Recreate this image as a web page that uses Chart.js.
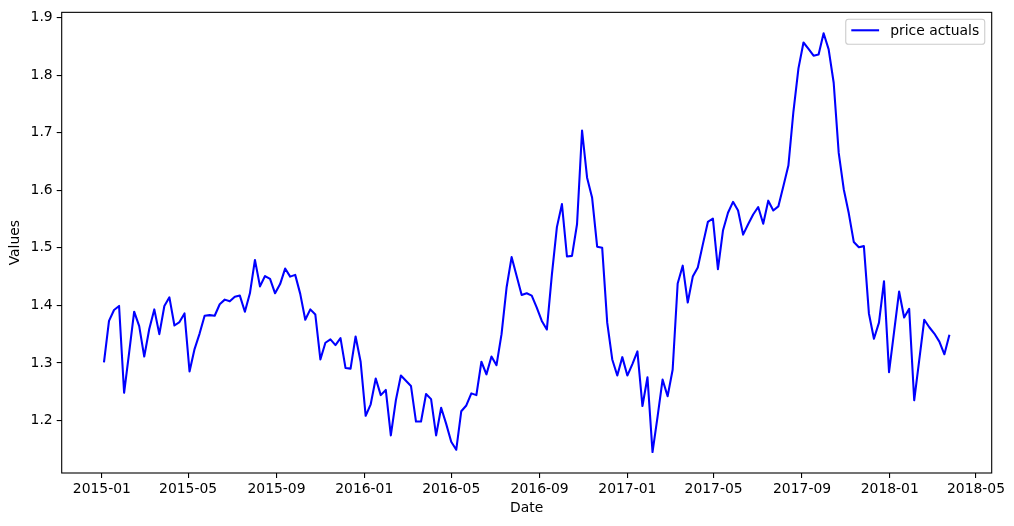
<!DOCTYPE html>
<html>
<head>
<meta charset="utf-8">
<title>price actuals</title>
<script src="https://cdn.jsdelivr.net/npm/chart.js@4.4.1/dist/chart.umd.min.js"></script>
<style>
    html, body { margin: 0; padding: 0; background: #fff; }
    #wrap { width: 1014px; height: 526px; }
</style>
</head>
<body>
<div id="wrap"><canvas id="priceChart" width="1014" height="526"></canvas></div>
<script>
// weekly series
const seriesLabel = 'price actuals';
const firstWeek = '2015-01-04';
const priceActuals = [
    1.301, 1.373, 1.392, 1.399, 1.248, 1.318, 1.389, 1.364, 1.311, 1.359,
    1.393, 1.350, 1.399, 1.414, 1.365, 1.371, 1.386, 1.285, 1.324, 1.351,
    1.382, 1.383, 1.382, 1.402, 1.410, 1.407, 1.415, 1.417, 1.389, 1.421,
    1.479, 1.433, 1.451, 1.446, 1.421, 1.437, 1.464, 1.450, 1.453, 1.420,
    1.375, 1.393, 1.384, 1.306, 1.335, 1.341, 1.331, 1.343, 1.291, 1.290,
    1.346, 1.302, 1.208, 1.228, 1.273, 1.244, 1.253, 1.174, 1.235, 1.278,
    1.269, 1.260, 1.198, 1.198, 1.246, 1.237, 1.174, 1.222, 1.194, 1.163,
    1.149, 1.216, 1.226, 1.247, 1.244, 1.302, 1.280, 1.311, 1.296, 1.350,
    1.431, 1.484, 1.451, 1.418, 1.421, 1.417, 1.396, 1.373, 1.358, 1.453,
    1.536, 1.576, 1.485, 1.486, 1.541, 1.704, 1.622, 1.587, 1.502, 1.500,
    1.370, 1.306, 1.278, 1.310, 1.278, 1.298, 1.320, 1.225, 1.275, 1.145,
    1.206, 1.271, 1.242, 1.288, 1.438, 1.469, 1.405, 1.450, 1.466, 1.506,
    1.545, 1.551, 1.463, 1.530, 1.561, 1.580, 1.565, 1.523, 1.541, 1.558,
    1.571, 1.542, 1.582, 1.565, 1.572, 1.607, 1.643, 1.737, 1.812, 1.857,
    1.846, 1.834, 1.836, 1.873, 1.845, 1.787, 1.665, 1.602, 1.560, 1.510,
    1.501, 1.503, 1.386, 1.342, 1.370, 1.442, 1.284, 1.354, 1.424, 1.379,
    1.394, 1.235, 1.305, 1.375, 1.362, 1.351, 1.337, 1.315, 1.349
];
const xTickLabels = ['2015-01', '2015-05', '2015-09', '2016-01', '2016-05', '2016-09',
    '2017-01', '2017-05', '2017-09', '2018-01', '2018-05'];
const yTickValues = [1.2, 1.3, 1.4, 1.5, 1.6, 1.7, 1.8, 1.9];

const DAY = 86400000;
const origin = Date.UTC(2015, 0, 1);
const toDay = (s) => {
    const [y, m, d] = s.split('-').map(Number);
    return (Date.UTC(y, m - 1, d || 1) - origin) / DAY;
};

const weekDays = priceActuals.map((_, i) => toDay(firstWeek) + 7 * i);
const xTickValues = xTickLabels.map(toDay);

// matplotlib style 5% margins
const pad = (lo, hi) => [lo - (hi - lo) * 0.05, hi + (hi - lo) * 0.05];
const [xMin, xMax] = pad(weekDays[0], weekDays[weekDays.length - 1]);
const [yMin, yMax] = pad(Math.min(...priceActuals), Math.max(...priceActuals));

const FONT = { family: '"DejaVu Sans", sans-serif', size: 13.9 };

const frameBox = {
    id: 'frameBox',
    afterDraw(chart) {
        const { ctx, chartArea: a } = chart;
        ctx.save();
        ctx.strokeStyle = '#000';
        ctx.lineWidth = 1.1;
        ctx.strokeRect(a.left, a.top, a.right - a.left, a.bottom - a.top);

        // legend, upper right like matplotlib
        const ds = chart.data.datasets[0];
        ctx.font = `${FONT.size}px ${FONT.family}`;
        const textW = ctx.measureText(ds.label).width;
        const bp = 5.56, hl = 27.8, tp = 11.1;
        const w = bp * 2 + hl + tp + textW, h = 25;
        const x0 = a.right - 6.95 - w, y0 = a.top + 6.95;
        ctx.beginPath();
        ctx.roundRect(x0, y0, w, h, 2.8);
        ctx.fillStyle = 'rgba(255,255,255,0.8)';
        ctx.fill();
        ctx.strokeStyle = '#cccccc';
        ctx.lineWidth = 1.1;
        ctx.stroke();
        ctx.beginPath();
        ctx.moveTo(x0 + bp, y0 + 11);
        ctx.lineTo(x0 + bp + hl, y0 + 11);
        ctx.strokeStyle = ds.borderColor;
        ctx.lineWidth = ds.borderWidth;
        ctx.stroke();
        ctx.fillStyle = '#000';
        ctx.textBaseline = 'middle';
        ctx.fillText(ds.label, x0 + bp + hl + tp, y0 + 12);
        ctx.restore();
    }
};

new Chart(document.getElementById('priceChart').getContext('2d'), {
    type: 'line',
    data: {
        datasets: [{
            label: seriesLabel,
            data: weekDays.map((d, i) => ({ x: d, y: priceActuals[i] })),
            borderColor: '#0000ff',
            borderWidth: 2.08,
            borderJoinStyle: 'round',
            pointRadius: 0,
            fill: false,
            tension: 0
        }]
    },
    options: {
        responsive: false,
        devicePixelRatio: 1,
        animation: false,
        layout: { padding: { left: 0, top: 11, right: 22.3, bottom: 0 } },
        plugins: { legend: { display: false }, tooltip: { enabled: false } },
        scales: {
            x: {
                type: 'linear',
                min: xMin,
                max: xMax,
                afterBuildTicks: (s) => { s.ticks = xTickValues.map(v => ({ value: v })); },
                afterFit: (s) => { s.height = 53; },
                ticks: {
                    callback: (v, i) => xTickLabels[i],
                    autoSkip: false, maxRotation: 0, color: '#000', font: FONT, padding: 3
                },
                grid: { drawOnChartArea: false, drawTicks: true, tickLength: 5, color: '#000', lineWidth: 1.1 },
                border: { display: false },
                title: { display: true, text: 'Date', color: '#000', font: FONT, padding: { top: 0, bottom: 9.5 } }
            },
            y: {
                type: 'linear',
                min: yMin,
                max: yMax,
                afterBuildTicks: (s) => { s.ticks = yTickValues.map(v => ({ value: v })); },
                afterFit: (s) => { s.width = 61.7; },
                ticks: {
                    callback: (v) => v.toFixed(1),
                    color: '#000', font: FONT, padding: 4
                },
                grid: { drawOnChartArea: false, drawTicks: true, tickLength: 5, color: '#000', lineWidth: 1.1 },
                border: { display: false },
                title: { display: true, text: 'Values', color: '#000', font: FONT, padding: { top: 6.8, bottom: 0 } }
            }
        }
    },
    plugins: [frameBox]
});
</script>
</body>
</html>
